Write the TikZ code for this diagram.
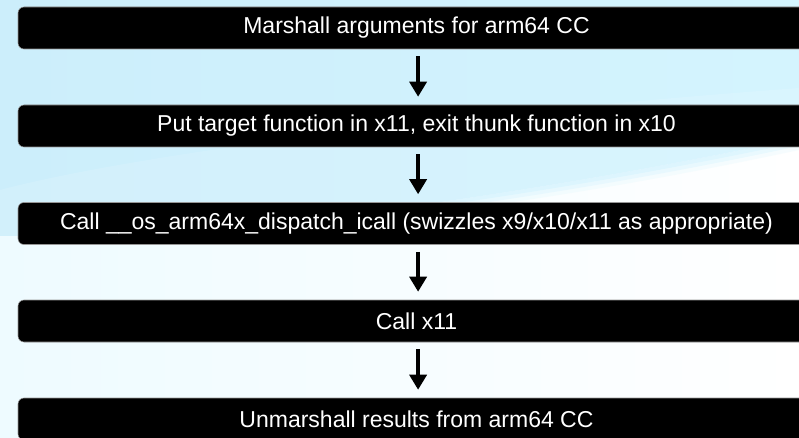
\documentclass[tikz,border=0pt]{standalone}
\usepackage{fontspec}
\setmainfont{Liberation Sans}
\usetikzlibrary{arrows.meta}
\definecolor{skyblue}{RGB}{204,238,251}
\definecolor{skyblueB}{RGB}{212,244,254}
\definecolor{paleglow}{RGB}{238,251,255}
\definecolor{rimgray}{RGB}{150,150,150}
\tikzset{
  stepbox/.style={fill=black, draw=rimgray, line width=0.4pt, rounded corners=4.5pt,
    minimum width=597.75pt, minimum height=31.5pt, inner sep=0pt,
    text=white, font=\fontsize{17.25}{20}\selectfont},
  flow/.style={line width=2.6pt, -{Triangle[width=12.75pt,length=11.25pt]},
    shorten <=5.25pt, shorten >=6pt},
}
\begin{document}
\begin{tikzpicture}[x=0.75pt,y=-0.75pt]
  \useasboundingbox (0,0) rectangle (799,438);
  % backdrop: pale lower wash, blue upper swoosh
  \shade[left color=paleglow, right color=white] (0,0) rectangle (799,438);
  \shade[left color=skyblue, right color=skyblueB]
    (0,0) -- (799,0) -- (799,138)
    .. controls (650,170) and (450,205) .. (250,226)
    .. controls (150,234) .. (0,236) -- cycle;
  % soft rim of the swoosh towards the right
  \foreach \d/\o in {4/0.5, 8/0.35, 12/0.2}
    \fill[skyblueB, opacity=\o]
      (799,138) .. controls (650,170) and (450,205) .. (250,226)
      -- (250,226+\d/2) .. controls (450,205+\d) and (650,170+\d) .. (799,138+\d) -- cycle;
  \fill[white, opacity=0.12]
    (0,190) .. controls (150,150) and (500,110) .. (799,88)
    -- (799,138)
    .. controls (650,170) and (450,205) .. (250,226)
    .. controls (150,234) .. (0,236) -- cycle;
  \begin{scope}
    \clip (0,0) rectangle (799,438);
    % the steps
    \node[stepbox] (b1) at (416.5,28)  {Marshall arguments for arm64 CC};
    \node[stepbox] (b2) at (416.5,126) {Put target function in x11, exit thunk function in x10};
    \node[stepbox] (b3) at (416.5,223.5) {Call \_\_os\_arm64x\_dispatch\_icall (swizzles x9/x10/x11 as appropriate)};
    \node[stepbox] (b4) at (416.5,321) {Call x11};
    \node[stepbox] (b5) at (416.5,419) {Unmarshall results from arm64 CC};
  \end{scope}
  % connectors
  \foreach \a/\b in {b1/b2, b2/b3, b3/b4, b4/b5}
    \draw[flow] ([xshift=1.2pt]\a.south) -- ([xshift=1.2pt]\b.north);
\end{tikzpicture}
\end{document}
